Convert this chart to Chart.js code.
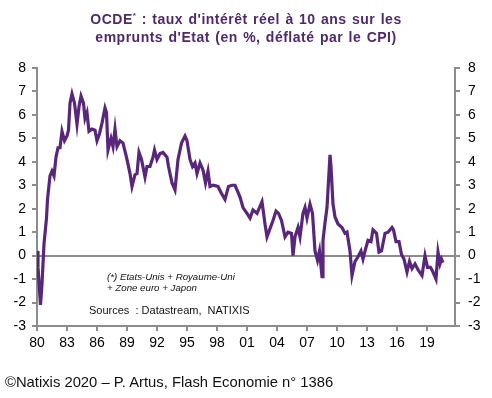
<!DOCTYPE html>
<html lang="fr">
<head>
  <meta charset="UTF-8">
  <title>OCDE : taux d'intérêt réel à 10 ans</title>
  <script src="https://cdn.jsdelivr.net/npm/chart.js"></script>
  <style>
    body { margin: 0; background: #fff; font-family: "Liberation Sans", Arial, sans-serif; }
    #wrap { position: relative; width: 492px; height: 398px; }
    #grafico { position: absolute; left: 0; top: 0; }
    .txt { position: absolute; white-space: nowrap; }
    #titre { left: 0; width: 492px; top: 7px; text-align: center; color: #4e2a6b; font-weight: bold; font-size: 14px; line-height: 18px; letter-spacing: 0.5px; word-spacing: 1px; }
    #titre sup { font-size: 8px; }
    #note { left: 107px; top: 271px; font-style: italic; font-size: 9.7px; line-height: 11px; color: #111; }
    #sources { left: 89px; top: 304px; font-size: 11px; color: #111; }
    #footer { left: 5px; top: 374px; font-size: 14.8px; color: #111; }
  </style>
</head>
<body>
  <div id="wrap">
    <canvas id="grafico" width="492" height="398"></canvas>
    <div class="txt" id="titre">OCDE<sup>*</sup> : taux d'intérêt réel à 10 ans sur les<br>emprunts d'Etat (en %, déflaté par le CPI)</div>
    <div class="txt" id="note">(*) Etats-Unis + Royaume-Uni<br>+ Zone euro + Japon</div>
    <div class="txt" id="sources">Sources&nbsp; : Datastream,&nbsp; NATIXIS</div>
    <div class="txt" id="footer">©Natixis 2020 – P. Artus, Flash Economie n° 1386</div>
  </div>

  <script>
    // Données (année décimale, taux réel en %)
    const years = [
      1980.0, 1980.1, 1980.35, 1980.5, 1980.7, 1980.95, 1981.05, 1981.3, 1981.5, 1981.7, 1981.9,
      1982.1, 1982.3, 1982.5, 1982.75, 1983.0, 1983.15, 1983.3, 1983.5, 1983.75, 1984.0,
      1984.2, 1984.4, 1984.65, 1984.8, 1985.0, 1985.2, 1985.5, 1985.8, 1986.0, 1986.25,
      1986.5, 1986.8, 1986.95, 1987.1, 1987.4, 1987.6, 1987.8, 1988.0, 1988.3, 1988.6,
      1989.0, 1989.3, 1989.5, 1989.8, 1990.0, 1990.2, 1990.45, 1990.8, 1991.0, 1991.3,
      1991.6, 1991.75, 1992.0, 1992.3, 1992.6, 1993.0, 1993.15, 1993.5, 1993.8, 1994.1,
      1994.45, 1994.8, 1995.0, 1995.3, 1995.55, 1995.8, 1996.0, 1996.3, 1996.6, 1996.85,
      1997.1, 1997.3, 1997.6, 1998.1, 1998.45, 1998.8, 1999.15, 1999.5, 1999.8, 2000.0,
      2000.3, 2000.6, 2001.0, 2001.3, 2001.6, 2002.0, 2002.5, 2002.8, 2003.0, 2003.3,
      2003.6, 2003.9, 2004.15, 2004.45, 2004.6, 2004.8, 2005.1, 2005.45, 2005.6, 2005.8,
      2006.1, 2006.3, 2006.6, 2006.8, 2007.0, 2007.3, 2007.55, 2007.8, 2008.05, 2008.25,
      2008.5, 2008.6, 2008.8, 2009.0, 2009.3, 2009.4, 2009.6, 2009.8, 2010.1, 2010.5,
      2010.8, 2011.0, 2011.3, 2011.5, 2011.8, 2012.1, 2012.4, 2012.6, 2012.9, 2013.1,
      2013.4, 2013.6, 2013.95, 2014.2, 2014.45, 2014.8, 2015.1, 2015.5, 2015.65, 2015.9,
      2016.2, 2016.45, 2016.7, 2017.0, 2017.25, 2017.5, 2017.8, 2018.1, 2018.5, 2018.8,
      2019.05, 2019.35, 2019.6, 2019.9, 2020.1, 2020.3, 2020.45, 2020.6
    ];
    const rates = [
      0.2, -0.5, -2.1, -1.2, 0.5, 1.6, 2.4, 3.4, 3.6, 3.4, 4.2,
      4.6, 4.6, 5.3, 4.9, 5.1, 5.35, 6.5, 6.9, 6.5, 5.6,
      6.35, 6.8, 6.5, 5.85, 6.1, 5.3, 5.4, 5.35, 4.9, 5.2,
      5.65, 6.3, 6.1, 4.5, 5.0, 4.65, 5.4, 4.65, 4.9, 4.8,
      4.1, 3.5, 2.95, 3.45, 3.5, 4.4, 4.1, 3.35, 3.8, 3.8,
      4.2, 4.5, 4.1, 4.35, 4.4, 4.2, 3.8, 3.1, 2.8, 4.1,
      4.8, 5.1, 4.9, 4.1, 3.8, 3.95, 3.5, 3.95, 3.65, 3.1,
      3.6, 2.95, 3.0, 2.95, 2.65, 2.4, 2.95, 3.0, 3.0, 2.8,
      2.5, 2.05, 1.8, 1.6, 1.95, 1.8, 2.3, 1.35, 0.8, 1.15,
      1.5, 1.9, 1.8, 1.5, 1.2, 0.8, 1.0, 0.95, 0.0, 0.8,
      1.2, 0.8, 1.8, 2.05, 1.6, 2.2, 1.8, 0.2, -0.2, 0.2,
      -0.9, 0.65, 1.4, 2.05, 4.3, 3.8, 2.2, 1.65, 1.35, 1.2,
      0.95, 1.0, 0.2, -0.85, -0.25, -0.05, 0.2, -0.15, 0.35, 0.65,
      0.6, 1.1, 0.95, 0.15, 0.2, 0.95, 1.0, 1.2, 1.1, 0.6,
      0.6, 0.05, -0.15, -0.7, -0.25, -0.55, -0.35, -0.6, -0.85, 0.0,
      -0.5, -0.5, -0.7, -1.0, 0.15, -0.35, -0.15, -0.3
    ];
    const tickYears = [1980, 1983, 1986, 1989, 1992, 1995, 1998, 2001, 2004, 2007, 2010, 2013, 2016, 2019];
    const tickLabels = ['80', '83', '86', '89', '92', '95', '98', '01', '04', '07', '10', '13', '16', '19'];

    const gris = '#8c8c8c';
    const points = years.map((x, i) => ({ x: x, y: rates[i] }));

    const yAxis = (pos) => ({
      type: 'linear',
      position: pos,
      min: -3,
      max: 8,
      ticks: { stepSize: 1, color: '#000', font: { size: 14 }, padding: pos === 'left' ? 6 : 8 },
      border: { color: gris, width: 2 },
      grid: {
        color: (c) => (c.tick && c.tick.value === 0 ? gris : 'rgba(0,0,0,0)'),
        lineWidth: 2,
        tickColor: gris,
        tickLength: 5,
        drawOnChartArea: pos === 'left'
      },
      afterFit: (scale) => { scale.width = 37; }
    });

    const ctx = document.getElementById('grafico').getContext('2d');
    new Chart(ctx, {
      type: 'line',
      data: {
        datasets: [{
          data: points,
          borderColor: '#58267a',
          borderWidth: 3.2,
          pointRadius: 0,
          tension: 0,
          fill: false
        }]
      },
      options: {
        responsive: false,
        animation: false,
        layout: { padding: { top: 68, left: 0, right: 0, bottom: 0 } },
        plugins: { legend: { display: false }, tooltip: { enabled: false } },
        scales: {
          x: {
            type: 'linear',
            min: 1980,
            max: 2021.8,
            afterBuildTicks: (scale) => { scale.ticks = tickYears.map(v => ({ value: v })); },
            ticks: {
              color: '#000',
              font: { size: 14 },
              padding: 4,
              maxRotation: 0,
              autoSkip: false,
              callback: (v) => tickLabels[tickYears.indexOf(v)]
            },
            border: { color: gris, width: 2 },
            grid: { drawOnChartArea: false, tickColor: gris, tickLength: 5, lineWidth: 2 },
            afterFit: (scale) => { scale.height = 72; }
          },
          y: yAxis('left'),
          y1: yAxis('right')
        }
      }
    });
  </script>
</body>
</html>
